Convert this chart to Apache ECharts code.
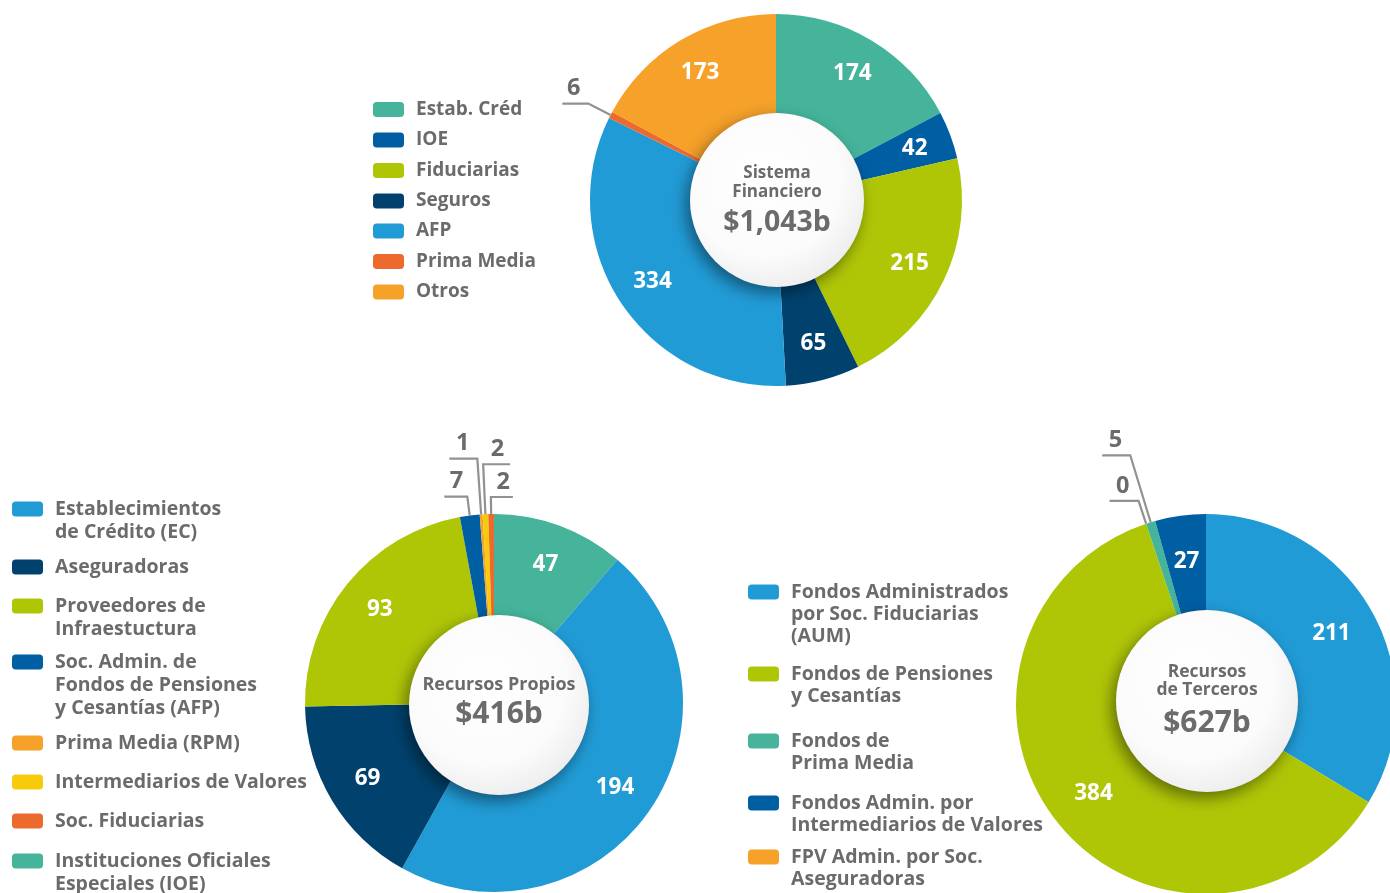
<!DOCTYPE html>
<html>
<head>
<meta charset="utf-8">
<script src="https://cdn.jsdelivr.net/npm/echarts@6/dist/echarts.min.js"></script>
<style>
html,body{margin:0;padding:0;background:#fff;}
#chart{width:1390px;height:893px;}
</style>
</head>
<body>
<div id="chart"></div>
<script>
// ---------- DATA ----------
// Sistema Financiero (clockwise from top)
const sfNames = ['Estab. Créd', 'IOE', 'Fiduciarias', 'Seguros', 'AFP', 'Prima Media', 'Otros'];
const sfValues = [174, 42, 215, 65, 334, 6, 173];
const sfTotal = '$1,043b';

// Recursos Propios (clockwise from top)
const rpNames = ['Instituciones Oficiales\nEspeciales (IOE)', 'Establecimientos\nde Crédito (EC)', 'Aseguradoras',
  'Proveedores de\nInfraestuctura', 'Soc. Admin. de\nFondos de Pensiones\ny Cesantías (AFP)',
  'Prima Media (RPM)', 'Intermediarios de Valores', 'Soc. Fiduciarias'];
const rpValues = [47, 194, 69, 93, 7, 1, 2, 2];
const rpLegendOrder = [1, 2, 3, 4, 5, 6, 7, 0];
const rpTotal = '$416b';

// Recursos de Terceros (clockwise from top)
const rtNames = ['Fondos Administrados\npor Soc. Fiduciarias\n(AUM)', 'Fondos de Pensiones\ny Cesantías',
  'FPV Admin. por Soc.\nAseguradoras', 'Fondos de\nPrima Media', 'Fondos Admin. por\nIntermediarios de Valores'];
const rtValues = [211, 384, 0, 5, 27];
const rtLegendOrder = [0, 1, 3, 4, 2];
const rtTotal = '$627b';

// ---------- STYLES / LAYOUT ----------
const C = {teal:'#45B49B', ioe:'#005EA3', green:'#AFC607', navy:'#00426D', sky:'#219BD6', red:'#EC6B2C', orange:'#F5A12A', yellow:'#F8CB0A'};
const sfColors = [C.teal, C.ioe, C.green, C.navy, C.sky, C.red, C.orange];
const rpColors = [C.teal, C.sky, C.navy, C.green, C.ioe, C.orange, C.yellow, C.red];
const rtColors = [C.sky, C.green, C.orange, C.teal, C.ioe];

const FONT = '"Open Sans"';
const GRAY = '#6b6b6b';

const callouts = {
  sf: {5: {len: 25, len2: 26, dist: -18}},
  rp: {4: {len: 19, len2: 23, dist: -19}, 5: {len: 56, len2: 28, dist: -20},
       6: {len: 50, len2: -27, dist: 6}, 7: {len: 17, len2: -22, dist: 3}},
  rt: {2: {len: 24, len2: 29, dist: -20}, 3: {len: 70, len2: 28, dist: -20}}
};

// visible ring (no labels)
function ring(center, radius, names, values, colors) {
  return {
    type: 'pie', center: center, radius: radius, startAngle: 90, clockwise: true,
    avoidLabelOverlap: false, animation: false, silent: true,
    emphasis: {disabled: true},
    label: {show: false}, labelLine: {show: false},
    data: names.map((n, i) => ({name: n, value: values[i], itemStyle: {color: colors[i]}}))
  };
}

// transparent ring carrying the value labels and call-outs
function labelRing(center, radius, names, values, co) {
  return {
    type: 'pie', center: center, radius: radius, startAngle: 90, clockwise: true,
    avoidLabelOverlap: false, animation: false, silent: true, z: 4,
    labelLayout: {hideOverlap: false, moveOverlap: null},
    emphasis: {disabled: true},
    itemStyle: {color: 'rgba(255,255,255,0)'},
    label: {show: true, position: 'inside', formatter: '{c}', color: '#fff', fontSize: 22.5,
      fontWeight: 'bold', fontFamily: FONT},
    labelLine: {show: false},
    data: names.map((n, i) => {
      const item = {name: n, value: values[i]};
      const c = co[i];
      if (c) {
        item.label = {position: 'outside', color: GRAY, fontSize: 23.5, fontWeight: 'bold', formatter: '{c}\n',
          lineHeight: 30, distanceToLabelLine: c.dist};
        item.labelLine = {show: true, length: c.len, length2: c.len2, minTurnAngle: 0, maxSurfaceAngle: 180,
          lineStyle: {color: '#919191', width: 2.2}};
      }
      return item;
    })
  };
}

function hub(center, r, rich, text, pad) {
  return {
    type: 'pie', center: center, radius: [0, r], silent: true, animation: false, z: 3,
    emphasis: {disabled: true},
    label: {show: true, position: 'center', formatter: text, rich: rich, padding: pad},
    labelLine: {show: false},
    itemStyle: {
      color: {type: 'radial', x: 0.42, y: 0.38, r: 0.75,
        colorStops: [{offset: 0, color: '#ffffff'}, {offset: 0.6, color: '#fbfbfb'}, {offset: 1, color: '#e6e6e6'}]},
      shadowColor: 'rgba(0,0,0,0.45)', shadowBlur: 16, shadowOffsetX: -4, shadowOffsetY: 6
    },
    data: [{value: 1, name: 'hub'}]
  };
}

function legends(names, order, left, centers, lineH, fontSize) {
  return order.map((idx, k) => {
    const n = names[idx];
    const lines = n.split('\n').length;
    const block = lineH * (2 * lines - 1);
    return {
      show: true, orient: 'vertical', left: left, top: centers[k] - Math.max(block, 15) / 2,
      padding: 0, itemWidth: 31, itemHeight: 15, icon: 'roundRect', selectedMode: false,
      data: [n],
      formatter: (name) => '\n'.repeat(lines - 1) + name,
      textStyle: {color: GRAY, fontSize: fontSize, fontWeight: 'bold', fontFamily: FONT,
        lineHeight: lineH, padding: [0, 0, 0, 7]}
    };
  });
}

const chart = echarts.init(document.getElementById('chart'), null, {renderer: 'canvas'});

const tBase = {fontWeight: 'bold', color: GRAY, fontFamily: FONT};
const tS = (size, lh) => Object.assign({}, tBase, {fontSize: size, lineHeight: lh});

const option = {
  backgroundColor: '#fff',
  textStyle: {fontFamily: FONT},
  legend: [].concat(
    legends(sfNames, [0, 1, 2, 3, 4, 5, 6], 373, [109.5, 140, 170.5, 201, 231, 261.5, 292], 20, 19),
    legends(rpNames, rpLegendOrder, 12, [509, 567, 606, 662, 743, 782, 821, 861], 23, 19.5),
    legends(rtNames, rtLegendOrder, 748, [592, 674, 741, 803, 857], 22, 19.5)
  ),
  series: [
    ring([776, 200], [80, 186], sfNames, sfValues, sfColors),
    hub([777, 200], 87, {t: tS(17, 19), v: tS(28.5, 43)},
      '{t|Sistema}\n{t|Financiero}\n{v|' + sfTotal + '}', [8, 0, 0, 0]),
    labelRing([776, 200], [104, 186], sfNames, sfValues, callouts.sf),
    ring([494, 703], [82, 189], rpNames, rpValues, rpColors),
    hub([499, 705], 90, {t: tS(18, 19), v: tS(30, 41)},
      '{t|Recursos Propios}\n{v|' + rpTotal + '}', [0, 0, 0, 0]),
    labelRing([494, 703], [100, 189], rpNames, rpValues, callouts.rp),
    ring([1206, 704], [84, 190], rtNames, rtValues, rtColors),
    hub([1207, 701], 91, {t: tS(17.5, 18), v: tS(30, 48)},
      '{t|Recursos}\n{t|de Terceros}\n{v|' + rtTotal + '}', [8, 0, 0, 0]),
    labelRing([1206, 704], [92, 190], rtNames, rtValues, callouts.rt)
  ]
};
chart.setOption(option);
</script>
</body>
</html>
